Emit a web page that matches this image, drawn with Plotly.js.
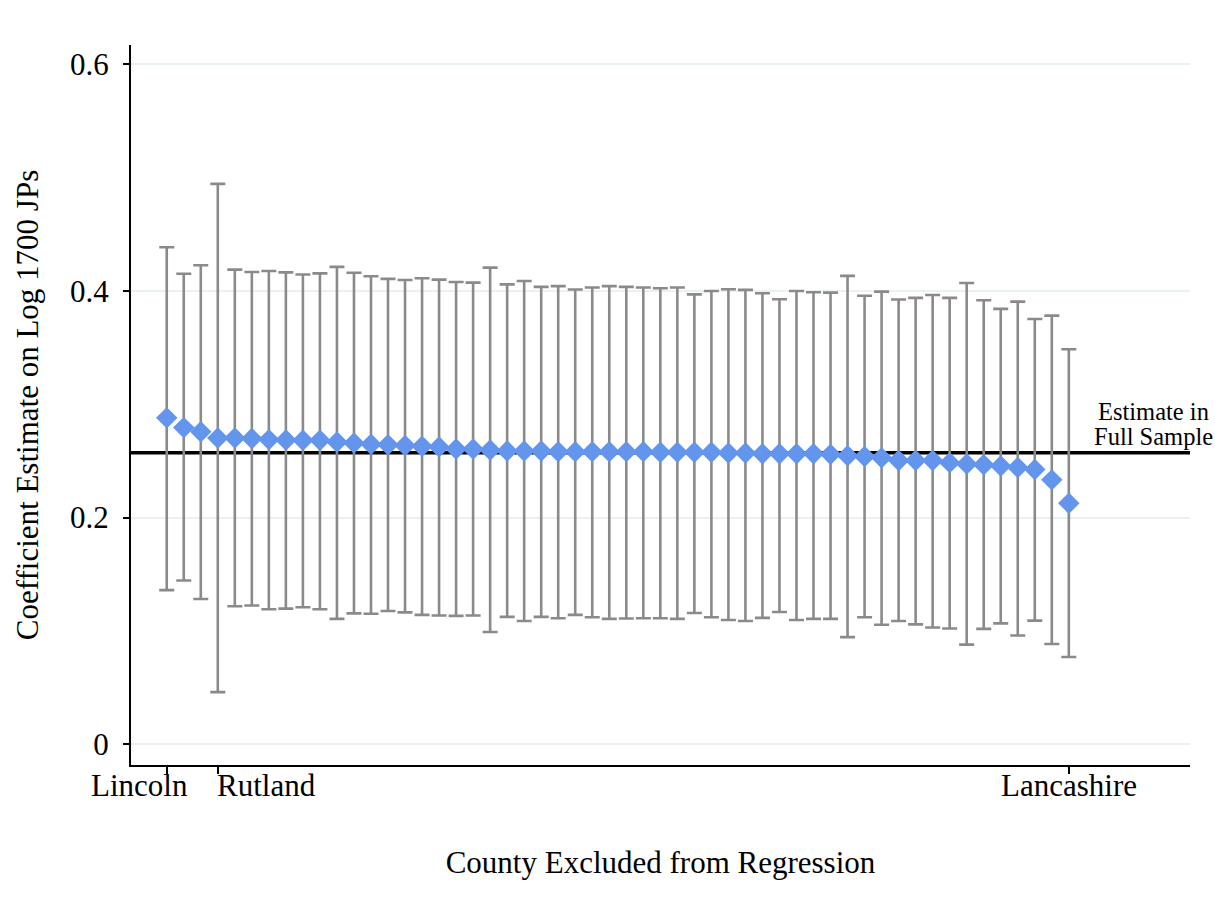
<!DOCTYPE html>
<html>
<head>
<meta charset="utf-8">
<script src="https://cdn.plot.ly/plotly-3.0.1.min.js"></script>
<style>html,body{margin:0;padding:0;background:#fff;}#chart{width:1215px;height:917px;}</style>
</head>
<body>
<div id="chart"></div>
<script>
// Point estimates with the listed county excluded (ordered by estimate)
const estimates = [0.288,0.2794,0.2758,0.2703,0.2703,0.2697,0.2688,0.2685,0.2682,0.2682,
  0.2667,0.2658,0.2648,0.2642,0.2636,0.263,0.2624,0.2606,0.2606,0.2597,
  0.2588,0.2588,0.2588,0.2582,0.2582,0.2582,0.2582,0.2582,0.2582,0.2576,
  0.2576,0.2576,0.2576,0.257,0.257,0.2564,0.2564,0.2564,0.2564,0.2558,
  0.2545,0.2539,0.2527,0.2503,0.2503,0.2503,0.2485,0.2473,0.2467,0.2455,
  0.2442,0.2424,0.2333,0.2127];
const upperCI = [0.4385,0.4152,0.4227,0.4945,0.4188,0.4167,0.4176,0.4164,0.4145,0.4155,
  0.4212,0.4161,0.413,0.4106,0.4097,0.4112,0.41,0.4079,0.4073,0.4206,
  0.4058,0.4088,0.4036,0.4042,0.4012,0.403,0.4042,0.4036,0.403,0.4024,
  0.403,0.397,0.4,0.4015,0.4009,0.3979,0.3927,0.4,0.3988,0.3985,
  0.4133,0.3958,0.3994,0.3924,0.3939,0.3964,0.3939,0.407,0.3918,0.3842,
  0.3906,0.3752,0.3782,0.3485];
const lowerCI = [0.136,0.1445,0.1282,0.046,0.1218,0.1224,0.1191,0.1197,0.1209,0.1191,
  0.1106,0.1155,0.1152,0.1176,0.1164,0.1142,0.1136,0.1133,0.1136,0.0991,
  0.1124,0.1088,0.1124,0.1112,0.1142,0.1121,0.1106,0.1109,0.1112,0.1112,
  0.1106,0.1158,0.1121,0.1097,0.1088,0.1115,0.1167,0.1097,0.1106,0.1106,
  0.0945,0.1121,0.1055,0.1088,0.1058,0.103,0.1021,0.0879,0.1018,0.1067,
  0.096,0.1091,0.0885,0.077];
const fullSampleEstimate = 0.2573;
const tickPositions = [1, 4, 54];
const tickLabels = ['Lincoln', 'Rutland', 'Lancashire'];
const yTickVals = [0, 0.2, 0.4, 0.6];
const yTickText = ['0', '0.2', '0.4', '0.6'];
const lineLabel = ['Estimate in', 'Full Sample'];

const xIdx = estimates.map((_, i) => i + 1);
const errPlus = upperCI.map((u, i) => u - estimates[i]);
const errMinus = lowerCI.map((l, i) => estimates[i] - l);

const FONT = 'Liberation Serif, Times New Roman, serif';

const trace = {
  type: 'scatter', mode: 'markers', x: xIdx, y: estimates,
  marker: {symbol: 'diamond', size: 16.5, color: '#6495ED', line: {width: 0}},
  error_y: {type: 'data', symmetric: false, array: errPlus, arrayminus: errMinus,
            color: '#8a8a8a', thickness: 2.6, width: 7.5},
  cliponaxis: false, hoverinfo: 'x+y', showlegend: false
};

const labelShifts = [-27.5, -3, 0];
const labelAnchors = ['center', 'left', 'center'];
const annotations = tickLabels.map((t, i) => ({
  text: t, x: tickPositions[i], xref: 'x', y: 0, yref: 'paper',
  yanchor: 'top', yshift: -1, xanchor: labelAnchors[i], xshift: labelShifts[i],
  showarrow: false, font: {family: FONT, size: 31, color: '#000'}
}));
lineLabel.forEach((t, i) => annotations.push({
  text: t, x: (1153 - 131) / 1059, xref: 'paper', y: fullSampleEstimate, yref: 'y',
  xanchor: 'center', yanchor: 'bottom', yshift: i === 0 ? 26 : 1, showarrow: false,
  font: {family: FONT, size: 24.5, color: '#000'}
}));

const layout = {
  width: 1215, height: 917,
  margin: {l: 131, r: 25, t: 45, b: 152},
  paper_bgcolor: '#fff', plot_bgcolor: '#fff',
  font: {family: FONT, size: 31, color: '#000'},
  xaxis: {
    range: [-1.1, 61.12], tickvals: tickPositions, ticktext: ['', '', ''],
    showgrid: false, zeroline: false, showline: true, linecolor: '#000', linewidth: 2,
    ticks: 'outside', ticklen: 7, tickwidth: 2, tickcolor: '#000',
    title: {text: 'County Excluded from Regression', font: {family: FONT, size: 31}, standoff: 72}
  },
  yaxis: {
    range: [-0.0183, 0.617], tickvals: yTickVals, ticktext: yTickText,
    showgrid: true, gridcolor: '#e9f1f2', gridwidth: 2, zeroline: false,
    showline: true, linecolor: '#000', linewidth: 2,
    ticks: 'outside', ticklen: 6, tickwidth: 2, tickcolor: '#000',
    ticklabelstandoff: 8,
    tickfont: {family: FONT, size: 31},
    title: {text: 'Coefficient Estimate on Log 1700 JPs', font: {family: FONT, size: 31}, standoff: 22}
  },
  shapes: [{type: 'line', xref: 'paper', x0: 0, x1: 1, yref: 'y', y0: fullSampleEstimate, y1: fullSampleEstimate,
            line: {color: '#000', width: 3.5}, layer: 'below'}],
  annotations: annotations,
  showlegend: false
};

Plotly.newPlot('chart', [trace], layout, {displayModeBar: false, staticPlot: true});
</script>
</body>
</html>
